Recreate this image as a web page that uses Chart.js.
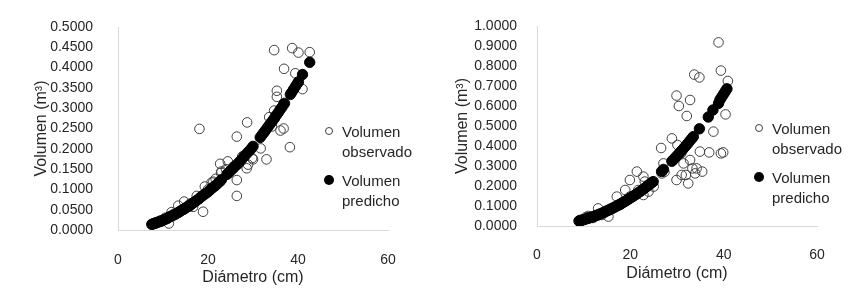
<!DOCTYPE html>
<html>
<head>
<meta charset="utf-8">
<script src="https://cdn.jsdelivr.net/npm/chart.js@4.4.1/dist/chart.umd.min.js"></script>
<style>
    body { margin: 0; background: #fff; width: 854px; height: 295px; overflow: hidden; position: relative; font-family: "Liberation Sans", Arial, sans-serif; }
    .panel { position: absolute; top: 0; height: 295px; }
    .legend { position: absolute; color: #262626; font-size: 15px; line-height: 20px; }
    .legend .item { position: relative; padding-left: 12px; margin-bottom: 9px; }
    .legend .mark { position: absolute; left: -5px; top: 5px; width: 8px; height: 8px; border-radius: 50%; box-sizing: border-box; }
    .legend .obs { border: 1px solid #404040; }
    .legend .pred { background: #000; width: 10px; height: 10px; left: -6px; top: 4px; }
</style>
</head>
<body>
<div class="panel" style="left:0;width:430px;"><canvas id="left" width="430" height="295"></canvas></div>
<div class="panel" style="left:430px;width:424px;"><canvas id="right" width="424" height="295"></canvas></div>

<div class="legend" style="left:330px;top:122px;">
    <div class="item"><span class="mark obs"></span>Volumen<br>observado</div>
    <div class="item"><span class="mark pred"></span>Volumen<br>predicho</div>
</div>
<div class="legend" style="left:760px;top:119px;">
    <div class="item"><span class="mark obs"></span>Volumen<br>observado</div>
    <div class="item"><span class="mark pred"></span>Volumen<br>predicho</div>
</div>

<script>
const xTicks = [0, 20, 40, 60];
const xTitle = 'Diámetro (cm)';
const yTitle = 'Volumen (m³)';
const seriesNames = ['Volumen observado', 'Volumen predicho'];

// left panel - observed
const leftObsX = [18.1, 34.7, 38.7, 40.1, 42.6, 36.9, 39.4, 41.0, 35.3, 35.3, 34.7, 33.6, 36.8, 36.1, 28.7,
    38.2, 31.7, 33.0, 26.4, 22.7, 24.4, 22.9, 26.4, 26.4, 29.8, 28.6, 28.9, 27.6, 30.0, 19.3,
    18.9, 17.5, 14.7, 13.4, 11.9, 11.3, 21.2, 21.7, 20.8, 16.7, 15.8, 25.6, 23.0, 34.2, 9.5,
    10.5, 12.5, 8.5, 24.0, 32.5, 16.0, 20.0];
const leftObsY = [0.249, 0.443, 0.448, 0.437, 0.438, 0.397, 0.386, 0.347, 0.343, 0.328, 0.294, 0.278, 0.250, 0.245, 0.265,
    0.204, 0.201, 0.174, 0.230, 0.163, 0.169, 0.141, 0.123, 0.084, 0.177, 0.152, 0.161, 0.181, 0.174, 0.107,
    0.045, 0.084, 0.070, 0.060, 0.044, 0.016, 0.119, 0.126, 0.117, 0.057, 0.057, 0.156, 0.144, 0.255, 0.020,
    0.030, 0.040, 0.018, 0.150, 0.240, 0.065, 0.100];

// left panel - predicted
const leftPredX = [7.5, 7.8, 8.0, 8.3, 8.6, 9.0, 9.4, 9.8, 10.2, 10.6, 11.0, 11.4, 11.8, 12.2, 12.6,
    13.0, 13.4, 13.8, 14.2, 14.6, 15.0, 15.5, 16.0, 16.5, 17.0, 17.5, 18.0, 18.5, 19.0, 19.5,
    20.0, 20.5, 21.0, 21.5, 22.0, 22.6, 23.0, 24.2, 24.6, 25.0, 25.5, 26.0, 26.5, 27.0, 27.5,
    28.0, 28.5, 29.0, 29.5, 30.0, 31.6, 32.0, 32.4, 32.8, 33.2, 33.6, 34.0, 34.4, 34.8, 35.2,
    35.6, 36.0, 36.4, 36.8, 37.0, 38.3, 38.6, 39.0, 39.4, 39.8, 40.1, 41.0, 42.6];
const leftPredY = [0.014, 0.015, 0.016, 0.017, 0.018, 0.020, 0.022, 0.023, 0.025, 0.027, 0.029, 0.032, 0.034, 0.036, 0.038,
    0.041, 0.043, 0.046, 0.049, 0.051, 0.054, 0.058, 0.061, 0.065, 0.069, 0.073, 0.077, 0.082, 0.086, 0.090,
    0.094, 0.099, 0.104, 0.108, 0.113, 0.119, 0.124, 0.137, 0.141, 0.146, 0.151, 0.157, 0.162, 0.168, 0.174,
    0.181, 0.187, 0.193, 0.199, 0.206, 0.228, 0.234, 0.240, 0.246, 0.252, 0.258, 0.264, 0.270, 0.276, 0.283,
    0.289, 0.296, 0.302, 0.309, 0.312, 0.334, 0.339, 0.346, 0.353, 0.360, 0.365, 0.383, 0.413];

// right panel - observed
const rightObsX = [38.9, 39.4, 33.7, 34.8, 40.9, 29.9, 32.8, 30.4, 32.1, 40.4, 37.8, 28.9, 30.1, 26.6, 34.9,
    36.9, 39.9, 30.9, 31.4, 32.8, 33.3, 33.9, 31.9, 32.4, 29.9, 31.0, 39.4, 27.1, 26.7, 27.3,
    21.4, 19.9, 22.8, 23.1, 25.0, 21.7, 22.8, 18.9, 19.9, 17.1, 17.8, 15.6, 13.1, 15.3, 13.9,
    9.2, 23.9, 34.2, 35.4, 10.5, 12.0, 11.0];
const rightObsY = [0.918, 0.777, 0.757, 0.743, 0.725, 0.652, 0.630, 0.600, 0.550, 0.558, 0.472, 0.438, 0.405, 0.390, 0.372,
    0.368, 0.368, 0.363, 0.313, 0.330, 0.288, 0.263, 0.255, 0.213, 0.230, 0.255, 0.363, 0.313, 0.263, 0.270,
    0.272, 0.230, 0.247, 0.222, 0.197, 0.180, 0.155, 0.180, 0.147, 0.147, 0.105, 0.080, 0.088, 0.047, 0.055,
    0.030, 0.172, 0.288, 0.272, 0.045, 0.040, 0.050];

// right panel - predicted
const rightPredX = [9.0, 9.3, 9.6, 9.9, 10.2, 10.6, 11.0, 11.4, 11.8, 12.2, 12.6, 13.0, 13.4, 13.8, 14.2,
    14.6, 15.0, 15.4, 15.8, 16.2, 16.6, 17.0, 17.4, 17.8, 18.2, 18.6, 19.0, 19.4, 19.8, 20.2,
    20.6, 21.0, 21.4, 21.8, 22.2, 22.6, 23.0, 23.4, 23.8, 24.2, 24.6, 24.9, 26.7, 27.1, 28.9,
    29.2, 29.6, 30.0, 30.4, 30.8, 31.2, 31.6, 32.0, 32.4, 32.8, 33.2, 33.5, 34.8, 36.7, 37.7,
    38.9, 39.2, 39.5, 39.8, 40.1, 40.4, 40.7];
const rightPredY = [0.025, 0.027, 0.029, 0.031, 0.033, 0.036, 0.039, 0.042, 0.045, 0.048, 0.052, 0.055, 0.059, 0.063, 0.067,
    0.071, 0.076, 0.080, 0.085, 0.089, 0.094, 0.099, 0.104, 0.109, 0.114, 0.120, 0.125, 0.131, 0.137, 0.143,
    0.149, 0.155, 0.161, 0.168, 0.174, 0.181, 0.188, 0.195, 0.202, 0.209, 0.217, 0.222, 0.273, 0.283, 0.324,
    0.331, 0.341, 0.351, 0.361, 0.372, 0.382, 0.393, 0.404, 0.415, 0.427, 0.438, 0.447, 0.486, 0.545, 0.580,
    0.613, 0.631, 0.642, 0.653, 0.664, 0.675, 0.686];

function toPoints(xs, ys) {
    return xs.map((x, i) => ({x: x, y: ys[i]}));
}

const textColor = '#262626';
const markColor = '#404040';
const axisColor = '#d9d9d9';

function makeChart(id, obsX, obsY, predX, predY, yMax, yStep, g) {
    return new Chart(document.getElementById(id).getContext('2d'), {
        type: 'scatter',
        data: {
            datasets: [{
                label: seriesNames[1],
                data: toPoints(predX, predY),
                backgroundColor: '#000',
                borderColor: '#000',
                borderWidth: 1,
                pointRadius: 5.2,
                order: 1
            }, {
                label: seriesNames[0],
                data: toPoints(obsX, obsY),
                backgroundColor: 'rgba(0,0,0,0)',
                borderColor: markColor,
                borderWidth: 1,
                pointRadius: 4.8,
                order: 2
            }]
        },
        options: {
            responsive: false,
            animation: false,
            layout: {padding: {top: g.top, right: g.right, left: 0, bottom: 0}},
            plugins: {legend: {display: false}, tooltip: {enabled: false}},
            scales: {
                x: {
                    type: 'linear',
                    min: xTicks[0],
                    max: xTicks[xTicks.length - 1],
                    afterBuildTicks: s => { s.ticks = xTicks.map(v => ({value: v})); },
                    afterFit: s => { s.height = g.xHeight; },
                    grid: {display: false},
                    border: {display: true, color: axisColor, width: 1},
                    ticks: {color: textColor, font: {size: 14, family: 'Liberation Sans'}, padding: g.xPad, maxRotation: 0},
                    title: {display: true, text: xTitle, color: textColor, font: {size: 16, family: 'Liberation Sans'}, padding: {top: 0, bottom: g.xTitlePad}}
                },
                y: {
                    min: 0,
                    max: yMax,
                    afterFit: s => { s.width = g.yWidth; },
                    grid: {display: false},
                    border: {display: true, color: axisColor, width: 1},
                    ticks: {stepSize: yStep, color: textColor, font: {size: 14, family: 'Liberation Sans'}, padding: g.yPad,
                        callback: v => Number(v).toFixed(4)},
                    title: {display: true, text: yTitle, color: textColor, font: {size: 16, family: 'Liberation Sans'}, padding: {top: g.yTitlePad, bottom: 0}}
                }
            }
        }
    });
}

makeChart('left', leftObsX, leftObsY, leftPredX, leftPredY, 0.5, 0.05,
    {top: 27, right: 42, xHeight: 65, yWidth: 118, xPad: 14, yPad: 17, xTitlePad: 8, yTitlePad: 32});
makeChart('right', rightObsX, rightObsY, rightPredX, rightPredY, 1.0, 0.1,
    {top: 26, right: 37, xHeight: 69, yWidth: 107, xPad: 13, yPad: 12, xTitlePad: 12, yTitlePad: 23});
</script>
</body>
</html>
